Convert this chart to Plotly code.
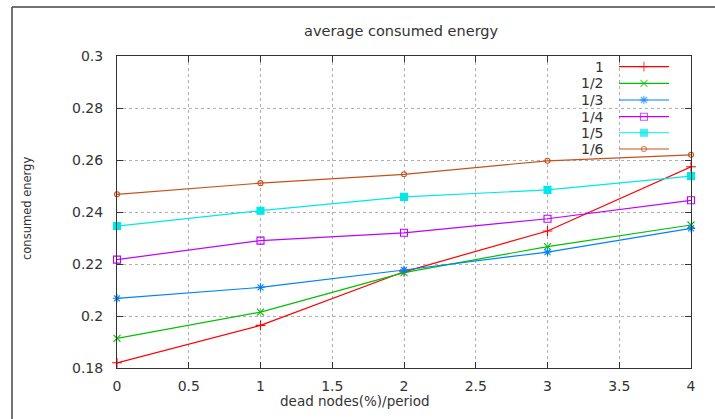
import plotly.graph_objects as go

# ---- data ----
x_vals = [0, 1, 2, 3, 4]
series_names = ["1", "1/2", "1/3", "1/4", "1/5", "1/6"]
s_1 = [0.182, 0.1964, 0.217, 0.2327, 0.2574]
s_1_2 = [0.1914, 0.2015, 0.2167, 0.2267, 0.2350]
s_1_3 = [0.2068, 0.2110, 0.2177, 0.2246, 0.2337]
s_1_4 = [0.2217, 0.2290, 0.2320, 0.2374, 0.2445]
s_1_5 = [0.2346, 0.2405, 0.2458, 0.2485, 0.2538]
s_1_6 = [0.2468, 0.2511, 0.2545, 0.2597, 0.2620]
series_values = [s_1, s_1_2, s_1_3, s_1_4, s_1_5, s_1_6]

x_ticks = [0, 0.5, 1, 1.5, 2, 2.5, 3, 3.5, 4]
x_tick_labels = ["0", "0.5", "1", "1.5", "2", "2.5", "3", "3.5", "4"]
y_ticks = [0.18, 0.20, 0.22, 0.24, 0.26, 0.28, 0.30]
y_tick_labels = ["0.18", "0.2", "0.22", "0.24", "0.26", "0.28", "0.3"]

title_text = "average consumed energy"
x_title = "dead nodes(%)/period"
y_title = "consumed energy"

# ---- styles ----
colors = ["#ff0000", "#00c000", "#0080ff", "#c000ff", "#00e8e8", "#c8501a"]
symbols = ["cross-thin", "x-thin", "asterisk-open", "square-open", "square", "circle-open"]
sizes = [7, 7, 7, 7, 7, 5]
FONT = "DejaVu Sans"
TXT = "#333333"

fig = go.Figure()

for name, vals, c, sym, sz in zip(series_names, series_values, colors, symbols, sizes):
    fig.add_trace(go.Scatter(
        x=x_vals, y=vals, mode="lines+markers", name=name,
        line=dict(color=c, width=1.2),
        marker=dict(symbol=sym, size=sz, color=c, line=dict(color=c, width=1.1)),
        showlegend=False, cliponaxis=False,
    ))

# custom gnuplot-style key (labels right-aligned, sample on the right)
leg_y = [0.9657, 0.9125, 0.859, 0.8054, 0.754, 0.702]
leg_x0, leg_xm, leg_x1 = 0.8746, 0.918, 0.9617
for name, c, sym, sz, ly in zip(series_names, colors, symbols, sizes, leg_y):
    fig.add_trace(go.Scatter(
        x=[leg_x0, leg_xm, leg_x1], y=[ly, ly, ly], xaxis="x2", yaxis="y2",
        mode="lines+markers", line=dict(color=c, width=1.2),
        marker=dict(symbol=sym, size=[0, sz, 0], color=c, line=dict(color=c, width=1.1)),
        showlegend=False, hoverinfo="skip", cliponaxis=False,
    ))
    fig.add_annotation(x=0.852, y=ly, xref="paper", yref="paper", text=name,
                       showarrow=False, xanchor="right", yanchor="middle",
                       font=dict(family=FONT, size=14, color=TXT))

axis_common = dict(
    showline=True, linecolor="#333333", linewidth=1, mirror="ticks",
    ticks="inside", ticklen=6, tickcolor="#333333", tickwidth=1,
    showgrid=True, gridcolor="#b0b0b0", griddash="dot", gridwidth=1,
    zeroline=False, tickfont=dict(family=FONT, size=14, color=TXT),
)

fig.update_layout(
    width=715, height=419,
    margin=dict(l=117, r=24, t=56, b=51),
    paper_bgcolor="white", plot_bgcolor="white",
    showlegend=False,
    xaxis=dict(range=[0, 4], tickvals=x_ticks, ticktext=x_tick_labels,
               ticklabelstandoff=5, **axis_common),
    yaxis=dict(range=[0.18, 0.30], tickvals=y_ticks, ticktext=y_tick_labels,
               ticklabelstandoff=10, **axis_common),
    xaxis2=dict(range=[0, 1], overlaying="x", visible=False, fixedrange=True),
    yaxis2=dict(range=[0, 1], overlaying="y", visible=False, fixedrange=True),
    shapes=[
        # clear the grid behind the key
        dict(type="rect", xref="paper", yref="paper", x0=0.862, x1=0.995, y0=0.675, y1=0.997,
             fillcolor="white", line=dict(width=0), layer="between"),
        # outer canvas frame
        dict(type="line", xref="paper", yref="paper", x0=-0.1829, x1=-0.1829, y0=1.157, y1=-0.2,
             line=dict(color="#444444", width=1.5)),
        dict(type="line", xref="paper", yref="paper", x0=-0.1829, x1=1.1, y0=1.157, y1=1.157,
             line=dict(color="#444444", width=1.5)),
    ],
)

# title and axis titles positioned as in the reference
fig.add_annotation(text=title_text, xref="paper", yref="paper",
                   x=(401 - 117) / 574, y=(368 - 31) / 312, showarrow=False,
                   xanchor="center", yanchor="middle",
                   font=dict(family=FONT, size=14.5, color=TXT))
fig.add_annotation(text=x_title, xref="paper", yref="paper",
                   x=(355 - 117) / 574, y=(368 - 401) / 312, showarrow=False,
                   xanchor="center", yanchor="middle",
                   font=dict(family=FONT, size=13.5, color=TXT))
fig.add_annotation(text=y_title, xref="paper", yref="paper",
                   x=(27 - 117) / 574, y=(368 - 209) / 312, showarrow=False,
                   xanchor="center", yanchor="middle", textangle=-90,
                   font=dict(family=FONT, size=11.5, color=TXT))

fig.write_html("out.html")
